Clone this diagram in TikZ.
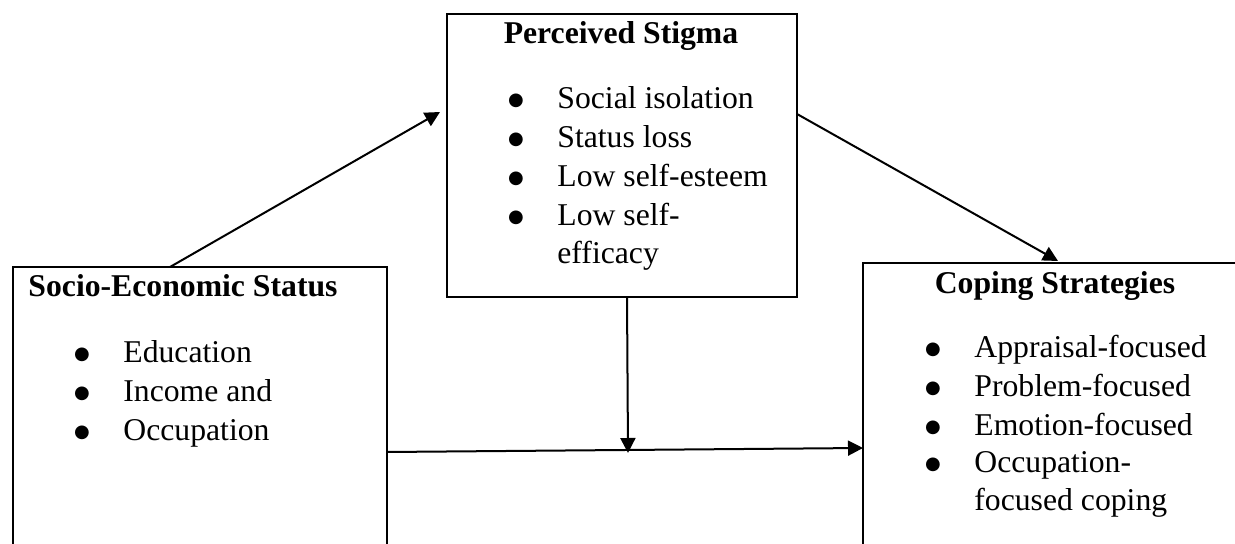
\documentclass[tikz,border=0pt]{standalone}
\usepackage{fontspec}
\setmainfont{Liberation Serif}
\newfontfamily\dotfont{DejaVu Sans}
\usetikzlibrary{arrows.meta,calc}
\begin{document}
\begin{tikzpicture}[x=0.5pt,y=-0.5pt,
  box/.style={draw,line width=1pt,rectangle,inner sep=0pt,outer sep=0pt,anchor=north west},
  ttl/.style={font=\fontsize{15.85}{19}\selectfont\bfseries,anchor=base,inner sep=0pt},
  itm/.style={font=\fontsize{15.85}{19}\selectfont,anchor=base west,inner sep=0pt},
  bul/.style={font=\dotfont\fontsize{9}{10}\selectfont,anchor=base,inner sep=0pt,yshift=1.6pt},
  arr/.style={line width=1pt,-{Triangle[length=7.5pt,width=7.5pt]}}]
\useasboundingbox (0,0) rectangle (1235,544);
\clip (0,0) rectangle (1235,544);
% boxes
\node[box,minimum width=187pt,minimum height=166.5pt] (ses) at (13,267) {};
\node[box,minimum width=175pt,minimum height=141.5pt] (ps) at (447,14) {};
\node[box,minimum width=192pt,minimum height=168.5pt] (cs) at (863,263) {};
% titles
\node[ttl] (sesT) at (183,297) {Socio-Economic Status};
\node[ttl] (psT) at (621,44) {Perceived Stigma};
\node[ttl] (csT) at (1055,294) {Coping Strategies};
% left items
\node[bul] (sb1) at (82,362.5) {●};
\node[itm] (si1) at (123,362.5) {Education};
\node[bul] (sb2) at (82,401.5) {●};
\node[itm] (si2) at (123,401.5) {Income and};
\node[bul] (sb3) at (82,440.5) {●};
\node[itm] (si3) at (123,440.5) {Occupation};
% top items
\node[bul] (pb1) at (516,108.5) {●};
\node[itm] (pi1) at (557,108.5) {Social isolation};
\node[bul] (pb2) at (516,147.5) {●};
\node[itm] (pi2) at (557,147.5) {Status loss};
\node[bul] (pb3) at (516,186.5) {●};
\node[itm] (pi3) at (557,186.5) {Low self-esteem};
\node[bul] (pb4) at (516,225.5) {●};
\node[itm] (pi4) at (557,225.5) {Low self-};
\node[itm] (pi5) at (557,263.5) {efficacy};
% right items
\node[bul] (cb1) at (933,358) {●};
\node[itm] (ci1) at (974,358) {Appraisal-focused};
\node[bul] (cb2) at (933,397) {●};
\node[itm] (ci2) at (974,397) {Problem-focused};
\node[bul] (cb3) at (933,435.5) {●};
\node[itm] (ci3) at (974,435.5) {Emotion-focused};
\node[bul] (cb4) at (933,473) {●};
\node[itm] (ci4) at (974,473) {Occupation-};
\node[itm] (ci5) at (974,510) {focused coping};
% connectors
\draw[arr] ($(ses.north west)+(157,0)$) -- ($(ps.north west)+(-7,98)$);
\draw[arr] ($(ps.north east)+(0,100)$) -- ($(cs.north west)+(195,-2)$);
\draw[arr] ($(ps.south west)+(180,0)$) -- ($(ps.south west)+(181,156)$);
\draw[arr] ($(ses.north east)+(0,185)$) -- ($(cs.north west)+(0,185)$);
\end{tikzpicture}
\end{document}
